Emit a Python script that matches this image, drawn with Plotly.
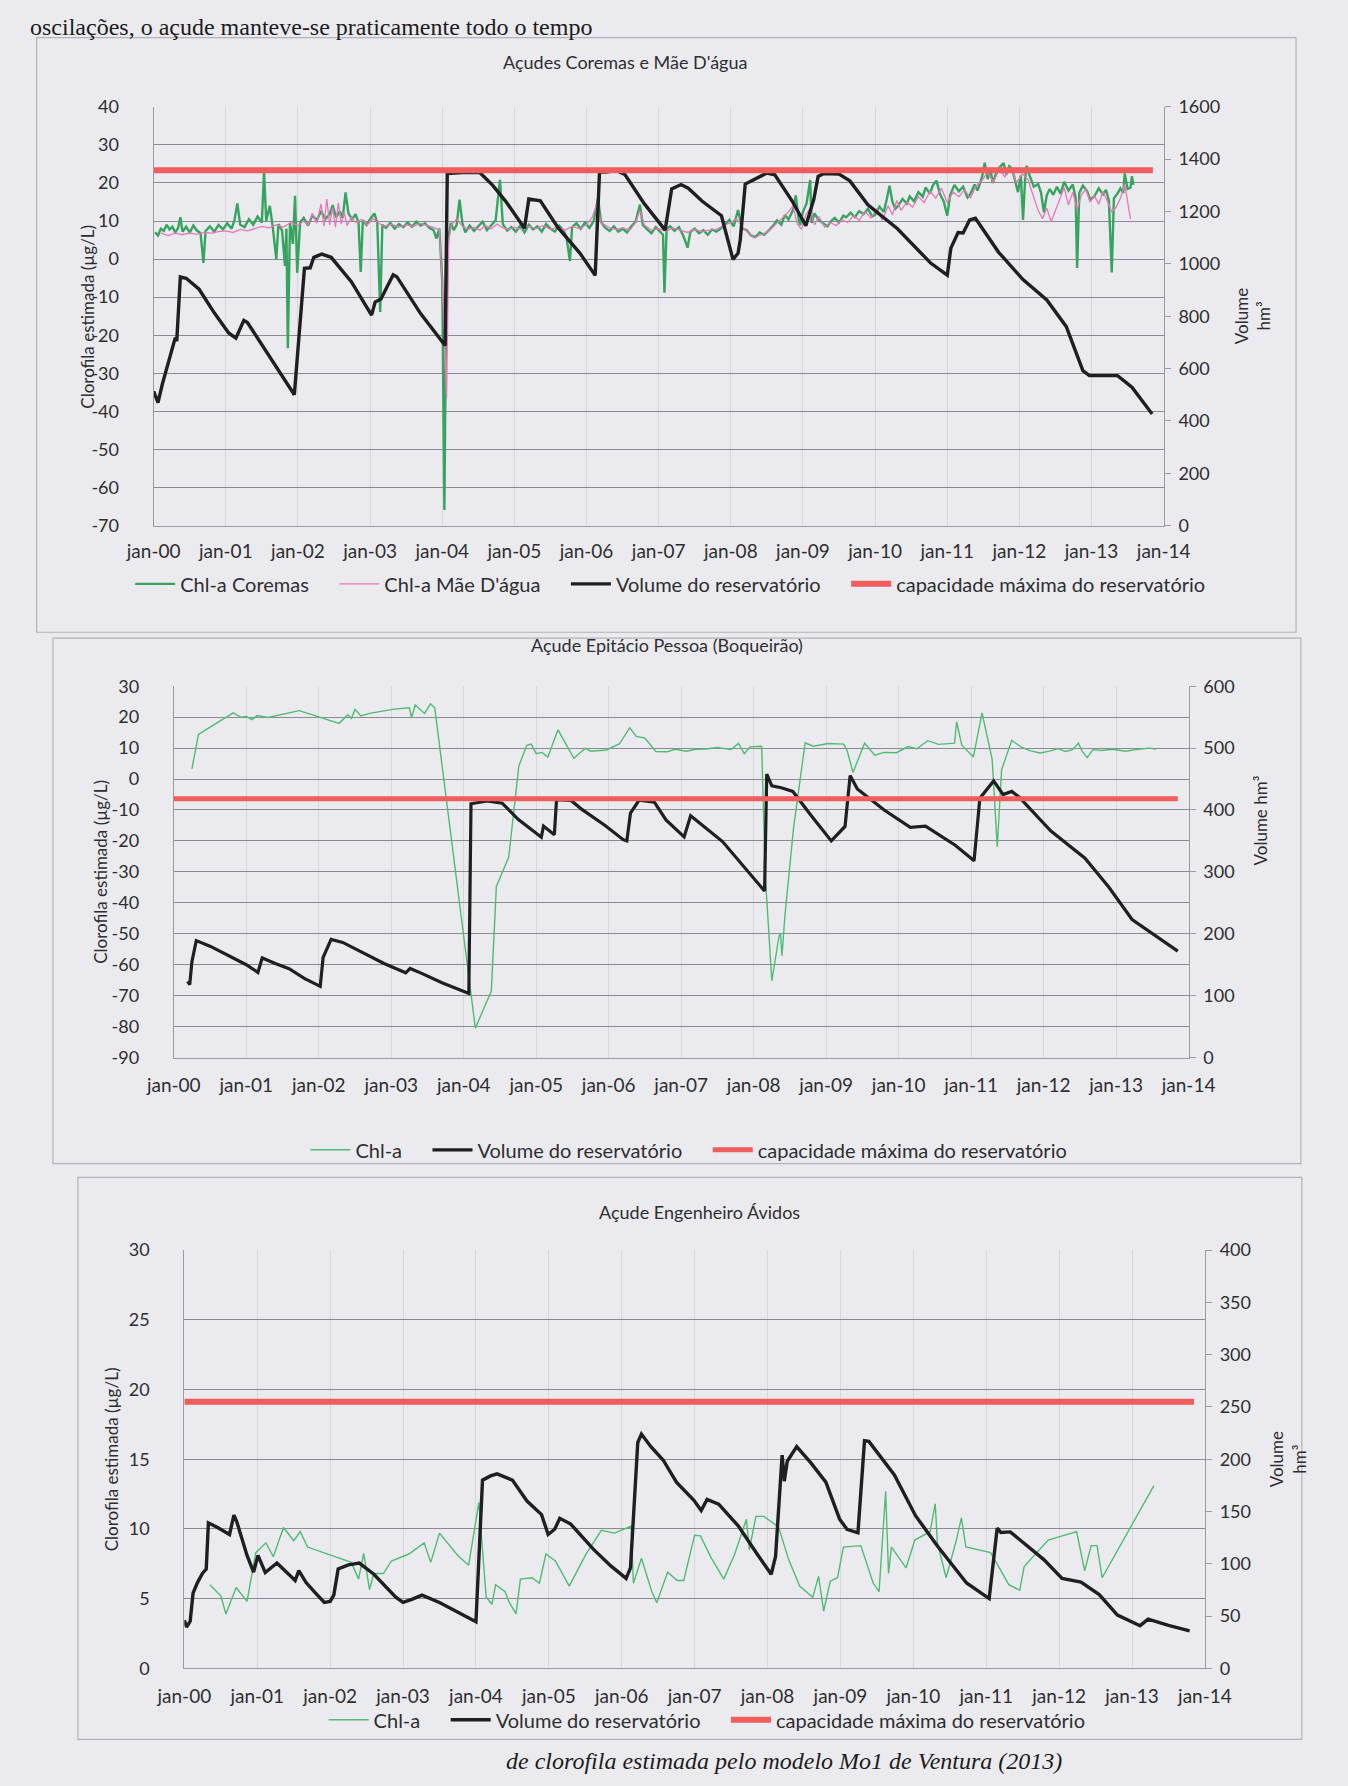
import plotly.graph_objects as go

W, H = 1348, 1786
FONT = "Lato, 'Open Sans', sans-serif"
SERIF = "'Liberation Serif', 'DejaVu Serif', serif"
TXT = "#2e2e30"

# ---------------- shared x-axis ticks ----------------
year_ticks = [2000, 2001, 2002, 2003, 2004, 2005, 2006, 2007,
              2008, 2009, 2010, 2011, 2012, 2013, 2014]
year_labels = ["jan-00", "jan-01", "jan-02", "jan-03", "jan-04", "jan-05", "jan-06",
               "jan-07", "jan-08", "jan-09", "jan-10", "jan-11", "jan-12", "jan-13", "jan-14"]

# left-axis tick labels (plain hyphen for negatives)
chl1_ticks = [-70, -60, -50, -40, -30, -20, -10, 0, 10, 20, 30, 40]
chl1_labels = ["-70", "-60", "-50", "-40", "-30", "-20", "-10", "0", "10", "20", "30", "40"]
chl2_ticks = [-90, -80, -70, -60, -50, -40, -30, -20, -10, 0, 10, 20, 30]
chl2_labels = ["-90", "-80", "-70", "-60", "-50", "-40", "-30", "-20", "-10", "0", "10", "20", "30"]
chl3_ticks = [0, 5, 10, 15, 20, 25, 30]
chl3_labels = ["0", "5", "10", "15", "20", "25", "30"]

# ---------------- Açudes Coremas e Mãe D'água ----------------
coremas_t = [2000.02, 2000.06, 2000.10, 2000.14, 2000.18, 2000.22, 2000.26, 2000.30, 2000.34, 2000.37,
             2000.40, 2000.45, 2000.50, 2000.55, 2000.60, 2000.65, 2000.69, 2000.72, 2000.78, 2000.84,
             2000.90, 2000.96, 2001.02, 2001.08, 2001.12, 2001.16, 2001.20, 2001.26, 2001.32, 2001.38,
             2001.44, 2001.50, 2001.53, 2001.56, 2001.61, 2001.65, 2001.70, 2001.73, 2001.78, 2001.82,
             2001.84, 2001.86, 2001.89, 2001.93, 2001.96, 2001.99, 2002.03, 2002.08, 2002.14, 2002.20,
             2002.26, 2002.32, 2002.38, 2002.44, 2002.48, 2002.53, 2002.58, 2002.62, 2002.66, 2002.70,
             2002.75, 2002.80, 2002.84, 2002.87, 2002.90, 2002.95, 2003.00, 2003.06, 2003.10, 2003.14,
             2003.17, 2003.22, 2003.28, 2003.34, 2003.40, 2003.46, 2003.52, 2003.58, 2003.64, 2003.70,
             2003.76, 2003.82, 2003.88, 2003.92, 2003.96, 2004.00, 2004.03, 2004.05, 2004.08, 2004.12,
             2004.16, 2004.20, 2004.24, 2004.28, 2004.32, 2004.38, 2004.44, 2004.50, 2004.56, 2004.62,
             2004.68, 2004.74, 2004.80, 2004.84, 2004.90, 2004.96, 2005.02, 2005.08, 2005.14, 2005.20,
             2005.26, 2005.32, 2005.38, 2005.44, 2005.50, 2005.56, 2005.62, 2005.68, 2005.72, 2005.77,
             2005.80, 2005.86, 2005.92, 2005.98, 2006.04, 2006.10, 2006.16, 2006.20, 2006.26, 2006.32,
             2006.38, 2006.44, 2006.50, 2006.56, 2006.62, 2006.68, 2006.74, 2006.78, 2006.84, 2006.90,
             2006.96, 2007.02, 2007.06, 2007.08, 2007.11, 2007.16, 2007.22, 2007.28, 2007.34, 2007.40,
             2007.44, 2007.50, 2007.56, 2007.62, 2007.68, 2007.74, 2007.80, 2007.86, 2007.92, 2007.98,
             2008.04, 2008.10, 2008.16, 2008.22, 2008.28, 2008.34, 2008.40, 2008.46, 2008.52, 2008.58,
             2008.64, 2008.70, 2008.75, 2008.80, 2008.86, 2008.90, 2008.94, 2008.96, 2009.00, 2009.05,
             2009.10, 2009.12, 2009.16, 2009.22, 2009.28, 2009.34, 2009.38, 2009.44, 2009.50, 2009.56,
             2009.60, 2009.66, 2009.72, 2009.78, 2009.84, 2009.90, 2009.96, 2010.00, 2010.06, 2010.12,
             2010.16, 2010.20, 2010.24, 2010.28, 2010.32, 2010.38, 2010.44, 2010.48, 2010.54, 2010.60,
             2010.66, 2010.70, 2010.76, 2010.80, 2010.85, 2010.90, 2010.95, 2011.00, 2011.04, 2011.10,
             2011.16, 2011.22, 2011.28, 2011.32, 2011.38, 2011.42, 2011.48, 2011.52, 2011.56, 2011.60,
             2011.63, 2011.68, 2011.72, 2011.78, 2011.82, 2011.86, 2011.90, 2011.94, 2011.98, 2012.02,
             2012.05, 2012.08, 2012.10, 2012.14, 2012.20, 2012.26, 2012.30, 2012.34, 2012.38, 2012.42,
             2012.47, 2012.52, 2012.57, 2012.62, 2012.68, 2012.74, 2012.78, 2012.80, 2012.83, 2012.88,
             2012.94, 2012.98, 2013.04, 2013.10, 2013.16, 2013.20, 2013.24, 2013.28, 2013.31, 2013.36,
             2013.40, 2013.44, 2013.46, 2013.50, 2013.54, 2013.56, 2013.58]
coremas_chl = [7.0, 6.2, 8.0, 7.4, 9.0, 7.8, 8.5, 7.0, 8.2, 11.0,
               7.2, 8.5, 7.0, 8.8, 7.5, 6.8, -1.0, 7.4, 8.6, 7.2,
               9.0, 7.8, 9.4, 8.0, 10.2, 14.6, 9.0, 8.4, 10.5, 9.0,
               11.2, 9.6, 23.0, 10.0, 14.0, 8.5, 0.0, 9.2, 7.5, -1.8,
               8.0, -23.4, 9.5, 4.0, 16.6, -3.6, 9.6, 10.8, 8.8, 11.5,
               10.2, 12.6, 10.5, 11.8, 14.2, 11.0, 12.5, 10.8, 17.5, 12.0,
               10.5, 11.8, 9.5, -3.4, 10.2, 9.0, 10.5, 12.0, 9.5, -13.9,
               9.0, 8.2, 9.5, 8.0, 9.2, 8.4, 9.6, 8.5, 9.8, 8.8,
               9.4, 8.2, 7.6, 5.4, 8.0, -5.9, -65.9, -20.0, 5.0, 9.5,
               7.6, 9.0, 15.6, 9.4, 7.0, 8.8, 7.4, 8.6, 9.8, 7.6,
               8.8, 10.2, 20.8, 9.2, 7.5, 8.4, 7.2, 8.8, 7.0, 9.0,
               7.8, 8.6, 7.2, 9.2, 8.0, 7.2, 8.8, 7.6, 6.0, -0.5,
               8.4, 9.4, 8.0, 9.6, 8.2, 10.0, 16.0, 9.8, 8.2, 7.4,
               8.6, 7.2, 8.0, 7.0, 8.6, 9.8, 14.3, 9.0, 7.8, 6.8,
               8.4, 7.2, 6.4, -8.8, 8.0, 8.6, 7.4, 8.4, 6.2, 3.0,
               7.2, 8.0, 6.8, 7.6, 6.4, 7.8, 7.2, 8.0, 9.2, 10.3,
               8.6, 12.9, 8.0, 7.6, 6.2, 5.8, 7.0, 6.4, 7.4, 8.6,
               10.2, 9.0, 11.6, 10.4, 12.8, 16.7, 10.5, 8.9, 12.4, 14.6,
               20.8, 9.5, 12.0, 10.2, 9.4, 8.6, 9.8, 10.8, 9.6, 11.4,
               11.0, 12.2, 11.0, 12.6, 11.8, 13.2, 11.2, 11.6, 13.8, 12.4,
               15.6, 19.3, 15.0, 13.2, 14.0, 15.8, 14.6, 16.5, 15.2, 17.6,
               16.4, 18.8, 17.2, 19.4, 20.6, 17.0, 15.2, 11.4, 16.8, 19.5,
               17.8, 19.0, 16.2, 17.1, 19.6, 18.0, 21.4, 25.3, 21.0, 23.4,
               20.0, 22.6, 24.0, 25.2, 22.2, 24.4, 23.7, 21.0, 17.6, 22.0,
               10.3, 21.2, 24.5, 22.0, 19.0, 19.7, 17.4, 12.3, 16.8, 18.4,
               16.9, 19.0, 17.2, 20.3, 18.0, 19.6, 16.0, -2.3, 17.4, 19.3,
               17.8, 15.6, 16.5, 18.6, 17.0, 18.2, 15.4, -3.5, 16.0, 17.2,
               18.6, 17.4, 22.5, 18.4, 18.8, 21.8, 19.5]

maedagua_t = [2000.10, 2000.20, 2000.30, 2000.40, 2000.50, 2000.60, 2000.70, 2000.80, 2000.90, 2001.00,
              2001.10, 2001.20, 2001.30, 2001.40, 2001.50, 2001.60, 2001.70, 2001.80, 2001.90, 2002.00,
              2002.08, 2002.14, 2002.20, 2002.26, 2002.32, 2002.36, 2002.40, 2002.44, 2002.48, 2002.52,
              2002.56, 2002.60, 2002.64, 2002.68, 2002.74, 2002.80, 2002.88, 2002.96, 2003.04, 2003.12,
              2003.20, 2003.30, 2003.40, 2003.50, 2003.60, 2003.70, 2003.80, 2003.90, 2003.96, 2004.00,
              2004.03, 2004.06, 2004.09, 2004.13, 2004.20, 2004.28, 2004.36, 2004.44, 2004.52, 2004.60,
              2004.68, 2004.76, 2004.84, 2004.92, 2005.00, 2005.10, 2005.20, 2005.30, 2005.40, 2005.50,
              2005.60, 2005.70, 2005.80, 2005.90, 2006.00, 2006.08, 2006.14, 2006.20, 2006.30, 2006.40,
              2006.50, 2006.60, 2006.68, 2006.74, 2006.80, 2006.90, 2007.00, 2007.10, 2007.20, 2007.30,
              2007.40, 2007.50, 2007.60, 2007.70, 2007.80, 2007.90, 2008.00, 2008.08, 2008.16, 2008.24,
              2008.32, 2008.40, 2008.48, 2008.56, 2008.64, 2008.72, 2008.80, 2008.86, 2008.92, 2008.98,
              2009.04, 2009.10, 2009.16, 2009.22, 2009.30, 2009.38, 2009.46, 2009.54, 2009.62, 2009.70,
              2009.78, 2009.86, 2009.94, 2010.02, 2010.10, 2010.18, 2010.24, 2010.30, 2010.36, 2010.44,
              2010.52, 2010.60, 2010.68, 2010.76, 2010.84, 2010.92, 2011.00, 2011.08, 2011.16, 2011.24,
              2011.32, 2011.40, 2011.48, 2011.56, 2011.64, 2011.72, 2011.80, 2011.88, 2011.96, 2012.04,
              2012.12, 2012.20, 2012.26, 2012.32, 2012.38, 2012.44, 2012.50, 2012.56, 2012.62, 2012.68,
              2012.74, 2012.80, 2012.86, 2012.92, 2012.98, 2013.04, 2013.10, 2013.16, 2013.22, 2013.28,
              2013.34, 2013.40, 2013.46, 2013.50, 2013.54]
maedagua_chl = [6.8, 6.2, 6.8, 6.4, 6.9, 6.5, 7.0, 6.8, 7.2, 7.4,
                7.0, 7.8, 7.4, 8.0, 8.6, 8.2, 9.0, 8.4, 9.6, 8.8,
                10.0, 9.0, 12.0, 9.4, 14.5, 8.6, 15.8, 9.0, 13.5, 8.4,
                14.8, 9.2, 12.4, 8.8, 11.0, 9.6, 10.4, 9.0, 10.6, 9.4,
                8.6, 9.2, 8.4, 9.0, 8.6, 9.4, 8.8, 8.2, 7.6, -6.0,
                -20.0, -36.6, 5.0, 9.0, 10.5, 8.6, 7.8, 8.4, 7.6, 8.8,
                8.0, 9.2, 8.2, 7.8, 8.4, 7.8, 8.6, 8.0, 8.8, 7.8,
                8.4, 7.6, 8.6, 8.0, 9.0, 11.0, 14.5, 9.6, 8.4, 7.8,
                8.2, 7.6, 9.6, 12.8, 9.0, 7.6, 8.0, 7.4, 8.2, 7.6,
                7.0, 7.8, 7.2, 7.6, 7.8, 8.8, 9.6, 10.6, 8.4, 7.0,
                5.6, 6.2, 6.8, 8.0, 9.4, 10.8, 12.4, 14.0, 9.2, 7.8,
                11.6, 13.4, 9.0, 11.2, 8.4, 9.6, 8.8, 10.4, 9.6, 11.4,
                10.2, 12.6, 10.8, 13.2, 10.2, 14.0, 11.6, 15.4, 12.8, 15.0,
                13.6, 16.4, 14.8, 17.8, 16.0, 18.6, 14.8, 17.6, 16.4, 18.2,
                16.0, 19.2, 20.6, 22.8, 20.2, 23.6, 21.6, 24.0, 20.0, 22.4,
                20.8, 16.2, 12.8, 10.6, 13.4, 9.8, 12.6, 15.8, 18.8, 14.2,
                17.6, 13.0, 16.8, 18.4, 15.0, 16.6, 14.4, 17.8, 15.2, 12.4,
                13.6, 16.0, 19.6, 14.8, 10.5]

coremas_vol_t = [2000.00, 2000.06, 2000.12, 2000.20, 2000.30, 2000.32, 2000.37, 2000.45, 2000.63, 2000.84,
                 2001.04, 2001.14, 2001.25, 2001.30, 2001.60, 2001.95, 2002.09, 2002.17, 2002.22, 2002.33,
                 2002.46, 2002.74, 2003.02, 2003.07, 2003.15, 2003.32, 2003.37, 2003.70, 2004.04, 2004.07,
                 2004.28, 2004.52, 2004.70, 2004.88, 2005.14, 2005.20, 2005.36, 2005.60, 2005.91, 2006.12,
                 2006.18, 2006.26, 2006.42, 2006.53, 2006.80, 2007.09, 2007.18, 2007.31, 2007.41, 2007.60,
                 2007.87, 2008.03, 2008.10, 2008.13, 2008.20, 2008.50, 2008.61, 2008.85, 2009.04, 2009.15,
                 2009.21, 2009.29, 2009.50, 2009.65, 2009.90, 2010.31, 2010.77, 2011.00, 2011.05, 2011.15,
                 2011.22, 2011.31, 2011.39, 2011.71, 2012.05, 2012.38, 2012.65, 2012.88, 2012.97, 2013.36,
                 2013.56, 2013.84]
coremas_vol = [513, 470, 540, 618, 718, 705, 950, 945, 903, 813,
               736, 716, 784, 776, 650, 500, 983, 985, 1025, 1037,
               1025, 932, 804, 854, 866, 958, 951, 810, 688, 1345,
               1349, 1349, 1300, 1239, 1136, 1248, 1241, 1140, 1040, 956,
               1351, 1351, 1356, 1342, 1230, 1129, 1286, 1303, 1289, 1240,
               1184, 1017, 1040, 1090, 1305, 1347, 1340, 1240, 1146, 1246,
               1334, 1345, 1343, 1317, 1226, 1134, 1003, 957, 1060, 1120,
               1118, 1168, 1174, 1045, 940, 862, 760, 592, 573, 573,
               529, 426]

coremas_cap = [1358, 1358]
coremas_cap_t = [2000.0, 2013.85]

# ---------------- Açude Epitácio Pessoa (Boqueirão) ----------------
boq_chl_t = [2000.25, 2000.34, 2000.55, 2000.82, 2000.92, 2001.00, 2001.08, 2001.15, 2001.30, 2001.50,
             2001.73, 2001.85, 2002.28, 2002.40, 2002.45, 2002.50, 2002.58, 2002.70, 2003.04, 2003.25,
             2003.28, 2003.33, 2003.46, 2003.54, 2003.60, 2004.16, 2004.38, 2004.45, 2004.62, 2004.76,
             2004.87, 2004.93, 2005.00, 2005.08, 2005.16, 2005.30, 2005.52, 2005.60, 2005.68, 2005.75,
             2005.97, 2006.15, 2006.29, 2006.38, 2006.50, 2006.65, 2006.80, 2006.92, 2007.07, 2007.20,
             2007.34, 2007.50, 2007.69, 2007.79, 2007.87, 2007.95, 2008.11, 2008.16, 2008.25, 2008.35,
             2008.37, 2008.39, 2008.43, 2008.55, 2008.71, 2008.82, 2009.03, 2009.24, 2009.29, 2009.37,
             2009.53, 2009.67, 2009.80, 2009.97, 2010.13, 2010.25, 2010.40, 2010.55, 2010.77, 2010.80,
             2010.87, 2011.03, 2011.15, 2011.29, 2011.36, 2011.42, 2011.56, 2011.70, 2011.82, 2011.95,
             2012.08, 2012.20, 2012.30, 2012.40, 2012.48, 2012.53, 2012.60, 2012.68, 2012.80, 2012.95,
             2013.13, 2013.30, 2013.45, 2013.55]
boq_chl = [3.3, 14.4, 17.5, 21.4, 20.0, 20.2, 19.2, 20.5, 19.9, 21.0,
           22.1, 21.2, 18.0, 20.8, 19.6, 22.5, 20.4, 21.2, 22.6, 23.0,
           19.8, 23.9, 21.2, 24.3, 23.0, -80.5, -68.5, -34.7, -25.3, 4.2,
           10.9, 11.3, 8.2, 8.6, 7.1, 15.9, 6.7, 8.4, 9.9, 9.0,
           9.4, 11.4, 16.6, 13.8, 13.2, 8.9, 8.8, 9.6, 9.0, 9.6,
           9.7, 10.2, 9.5, 11.5, 8.2, 10.4, 10.6, -31.4, -65.2, -50.7,
           -49.9, -57.1, -44.4, -15.7, 11.7, 10.6, 11.5, 11.3, 9.1, 2.1,
           11.6, 7.7, 8.6, 8.5, 10.5, 9.8, 12.4, 11.2, 11.6, 18.5,
           11.0, 7.1, 21.4, 6.3, -21.9, 3.0, 12.5, 10.2, 9.1, 8.4,
           9.0, 9.8, 8.9, 9.5, 11.6, 9.0, 6.9, 9.5, 9.2, 9.6,
           9.0, 9.6, 10.0, 9.7]

boq_vol_t = [2000.19, 2000.22, 2000.25, 2000.31, 2000.50, 2000.75, 2001.00, 2001.16, 2001.22, 2001.40,
             2001.59, 2001.80, 2002.02, 2002.06, 2002.17, 2002.33, 2002.60, 2002.90, 2003.20, 2003.26,
             2003.42, 2003.70, 2004.07, 2004.10, 2004.32, 2004.53, 2004.75, 2005.07, 2005.10, 2005.25,
             2005.28, 2005.48, 2005.63, 2005.95, 2006.20, 2006.25, 2006.30, 2006.42, 2006.63, 2006.79,
             2007.04, 2007.13, 2007.57, 2007.85, 2008.15, 2008.18, 2008.25, 2008.38, 2008.54, 2008.80,
             2009.07, 2009.26, 2009.33, 2009.43, 2009.80, 2010.16, 2010.37, 2010.78, 2011.04, 2011.12,
             2011.31, 2011.44, 2011.56, 2011.66, 2012.10, 2012.57, 2012.90, 2013.22, 2013.50, 2013.85]
boq_vol = [123, 118, 155, 189, 180, 165, 150, 137.5, 161, 152,
           143.5, 128, 115, 162, 191, 186, 170, 152, 137, 144,
           136, 121, 103.5, 410, 414.5, 411, 385, 356, 374, 360,
           416.5, 415.5, 401, 375, 352, 350, 395, 416, 412.5, 384,
           356.5, 390.7, 349, 310, 269, 458, 439, 436, 430, 390,
           350, 373.4, 455.6, 434, 400, 372, 374, 343, 318, 419,
           447, 425, 430, 421, 366, 322, 275, 223, 200, 172]

boq_cap = [418, 418]
boq_cap_t = [2000.0, 2013.85]

# ---------------- Açude Engenheiro Ávidos ----------------
avidos_chl_t = [2000.35, 2000.50, 2000.57, 2000.71, 2000.86, 2000.98, 2001.12, 2001.22, 2001.36, 2001.50,
                2001.59, 2001.69, 2002.29, 2002.39, 2002.46, 2002.54, 2002.60, 2002.73, 2002.84, 2003.08,
                2003.29, 2003.38, 2003.50, 2003.75, 2003.90, 2004.04, 2004.14, 2004.22, 2004.27, 2004.40,
                2004.45, 2004.55, 2004.61, 2004.77, 2004.87, 2004.96, 2005.09, 2005.28, 2005.50, 2005.72,
                2005.90, 2006.13, 2006.16, 2006.27, 2006.41, 2006.48, 2006.63, 2006.76, 2006.85, 2007.00,
                2007.08, 2007.22, 2007.40, 2007.55, 2007.71, 2007.75, 2007.84, 2007.95, 2008.15, 2008.29,
                2008.44, 2008.62, 2008.70, 2008.77, 2008.86, 2008.96, 2009.04, 2009.28, 2009.45, 2009.53,
                2009.62, 2009.66, 2009.70, 2009.90, 2010.02, 2010.23, 2010.30, 2010.33, 2010.45, 2010.59,
                2010.66, 2010.72, 2011.06, 2011.31, 2011.46, 2011.52, 2011.85, 2012.24, 2012.35, 2012.44,
                2012.52, 2012.59, 2013.30]
avidos_chl = [6.0, 5.2, 3.9, 5.8, 4.8, 8.3, 9.0, 8.0, 10.1, 9.15,
              9.8, 8.7, 7.6, 6.4, 8.25, 5.65, 6.8, 6.8, 7.7, 8.2,
              9.0, 7.6, 9.7, 8.1, 7.4, 11.9, 5.1, 4.6, 6.0, 5.5,
              4.8, 3.9, 6.4, 6.5, 6.1, 8.2, 7.7, 5.9, 8.1, 9.9,
              9.7, 10.2, 6.1, 7.9, 5.55, 4.7, 6.9, 6.3, 6.3, 9.55,
              9.5, 8.0, 6.4, 8.2, 10.7, 8.5, 10.9, 10.9, 10.15, 7.8,
              5.9, 5.1, 6.6, 4.1, 6.25, 6.5, 8.7, 8.8, 6.1, 5.5,
              12.7, 6.8, 8.7, 7.2, 9.2, 9.8, 11.8, 9.0, 6.5, 9.2,
              10.8, 8.7, 8.3, 6.0, 5.6, 7.3, 9.2, 9.8, 7.0, 8.8,
              8.8, 6.5, 13.1]

avidos_vol_t = [2000.00, 2000.03, 2000.08, 2000.12, 2000.18, 2000.25, 2000.30, 2000.33, 2000.45, 2000.55,
                2000.62, 2000.68, 2000.72, 2000.86, 2000.95, 2001.01, 2001.11, 2001.27, 2001.40, 2001.52,
                2001.57, 2001.67, 2001.80, 2001.92, 2002.00, 2002.05, 2002.11, 2002.25, 2002.40, 2002.60,
                2002.90, 2003.00, 2003.12, 2003.26, 2003.50, 2003.75, 2004.00, 2004.09, 2004.20, 2004.29,
                2004.50, 2004.70, 2004.90, 2004.99, 2005.08, 2005.15, 2005.30, 2005.61, 2005.85, 2006.06,
                2006.12, 2006.22, 2006.27, 2006.40, 2006.57, 2006.75, 2006.99, 2007.09, 2007.17, 2007.33,
                2007.60, 2007.85, 2008.05, 2008.11, 2008.20, 2008.23, 2008.27, 2008.40, 2008.60, 2008.80,
                2008.99, 2009.09, 2009.24, 2009.33, 2009.39, 2009.74, 2010.03, 2010.33, 2010.73, 2011.04,
                2011.15, 2011.20, 2011.33, 2011.79, 2012.04, 2012.30, 2012.55, 2012.80, 2013.11, 2013.22,
                2013.50, 2013.79]
avidos_vol = [46, 39.5, 45, 72, 82, 91, 95, 139, 135, 131,
              128, 146.6, 140, 108, 92, 108, 91.6, 100.7, 92, 84,
              93.4, 82, 72, 63, 64, 70, 95, 99, 100.7, 90,
              68, 63, 66, 70, 63, 54, 44.5, 180, 184, 186,
              180, 160, 147, 128, 133, 143.5, 138, 114, 98, 86,
              96, 216, 224, 212, 199, 178, 160.7, 151, 161.6, 157,
              136, 110, 90, 107, 204, 179, 198, 212, 196, 178,
              142.5, 133, 129.6, 217.6, 217, 185, 146, 117, 81.6, 66.7,
              134, 130, 130.5, 104, 86, 82.4, 70.6, 51, 40.8, 47,
              41, 35.8]

avidos_cap = [255, 255]
avidos_cap_t = [2000.0, 2013.85]

# ---------------- styling ----------------
GREEN1 = "#36a35e"
GREEN2 = "#4fbb74"
PINK = "#e877b8"
BLACK = "#1f1f22"
RED = "#ef5d5d"
GRID = "#8a8a90"
VGRID = "#d6d6db"
AXIS = "#9a9aa0"
BG = "#ebebef"
SP = "\u00a0" * 4   # extra room between legend entries


def fx(p):
    return p / W


def fy(p):
    return 1 - p / H


fig = go.Figure()

# chart 1 traces
fig.add_trace(go.Scatter(x=coremas_t, y=coremas_chl, mode="lines", name="Chl-a Coremas" + SP,
                         line=dict(color=GREEN1, width=2.4), xaxis="x", yaxis="y", legend="legend"))
fig.add_trace(go.Scatter(x=maedagua_t, y=maedagua_chl, mode="lines", name="Chl-a Mãe D'água" + SP,
                         line=dict(color=PINK, width=1.3), xaxis="x", yaxis="y", legend="legend"))
fig.add_trace(go.Scatter(x=coremas_vol_t, y=coremas_vol, mode="lines", name="Volume do reservatório" + SP,
                         line=dict(color=BLACK, width=3.4), xaxis="x", yaxis="y2", legend="legend"))
fig.add_trace(go.Scatter(x=coremas_cap_t, y=coremas_cap, mode="lines", name="capacidade máxima do reservatório",
                         line=dict(color=RED, width=6), xaxis="x", yaxis="y2", legend="legend"))

# chart 2 traces
fig.add_trace(go.Scatter(x=boq_chl_t, y=boq_chl, mode="lines", name="Chl-a" + SP,
                         line=dict(color=GREEN2, width=1.4), xaxis="x2", yaxis="y3", legend="legend2"))
fig.add_trace(go.Scatter(x=boq_vol_t, y=boq_vol, mode="lines", name="Volume do reservatório" + SP,
                         line=dict(color=BLACK, width=3.2), xaxis="x2", yaxis="y4", legend="legend2"))
fig.add_trace(go.Scatter(x=boq_cap_t, y=boq_cap, mode="lines", name="capacidade máxima do reservatório",
                         line=dict(color=RED, width=5), xaxis="x2", yaxis="y4", legend="legend2"))

# chart 3 traces
fig.add_trace(go.Scatter(x=avidos_chl_t, y=avidos_chl, mode="lines", name="Chl-a" + SP,
                         line=dict(color=GREEN2, width=1.4), xaxis="x3", yaxis="y5", legend="legend3"))
fig.add_trace(go.Scatter(x=avidos_vol_t, y=avidos_vol, mode="lines", name="Volume do reservatório" + SP,
                         line=dict(color=BLACK, width=3.4), xaxis="x3", yaxis="y6", legend="legend3"))
fig.add_trace(go.Scatter(x=avidos_cap_t, y=avidos_cap, mode="lines", name="capacidade máxima do reservatório",
                         line=dict(color=RED, width=6), xaxis="x3", yaxis="y6", legend="legend3"))

tickfont = dict(family=FONT, size=18, color=TXT)
xtickfont = dict(family=FONT, size=19, color=TXT)


def xaxis(x0, x1, anchor, standoff):
    return dict(domain=[fx(x0), fx(x1)], anchor=anchor, range=[2000, 2014],
                tickmode="array", tickvals=year_ticks, ticktext=year_labels,
                showgrid=True, gridcolor=VGRID, gridwidth=1, zeroline=False,
                showline=True, linecolor=AXIS, linewidth=1.2, ticks="",
                ticklabelstandoff=standoff, tickfont=xtickfont, fixedrange=True)


def yleft(y0, y1, anchor, rng, tv, tt):
    return dict(domain=[fy(y1), fy(y0)], anchor=anchor, range=rng,
                tickmode="array", tickvals=tv, ticktext=tt,
                showgrid=True, gridcolor=GRID, gridwidth=1.2, zeroline=False,
                showline=True, linecolor=AXIS, linewidth=1.2, ticks="",
                ticklabelstandoff=30, tickfont=tickfont, fixedrange=True)


def yright(over, anchor, rng, dtick):
    return dict(overlaying=over, anchor=anchor, side="right", range=rng, dtick=dtick,
                showgrid=False, zeroline=False, showline=True, linecolor=AXIS, linewidth=1.2,
                ticks="outside", ticklen=6, tickcolor=AXIS, ticklabelstandoff=4,
                tickfont=tickfont, fixedrange=True)


legend_common = dict(orientation="h", xanchor="center", yanchor="middle",
                     font=dict(family=FONT, size=20, color=TXT), bgcolor="rgba(0,0,0,0)",
                     itemwidth=40, traceorder="normal")

fig.update_layout(
    width=W, height=H,
    margin=dict(l=0, r=0, t=0, b=0),
    paper_bgcolor=BG, plot_bgcolor=BG,
    xaxis=xaxis(131, 1184, "y", 9),
    yaxis=yleft(96, 520, "x", [-70, 40], chl1_ticks, chl1_labels),
    yaxis2=yright("y", "x", [0, 1600], 200),
    xaxis2=xaxis(152, 1210, "y3", 11),
    yaxis3=yleft(682.6, 1058.6, "x2", [-90, 30], chl2_ticks, chl2_labels),
    yaxis4=yright("y3", "x2", [0, 600], 100),
    xaxis3=xaxis(163, 1227, "y5", 11),
    yaxis5=yleft(1253.5, 1677, "x3", [0, 30], chl3_ticks, chl3_labels),
    yaxis6=yright("y5", "x3", [0, 400], 50),
    legend=dict(legend_common, x=fx(670), y=fy(579)),
    legend2=dict(legend_common, x=fx(689), y=fy(1152)),
    legend3=dict(legend_common, x=fx(708), y=fy(1729)),
    showlegend=True,
)

# chart frames
frames = [(9, 26, 1322, 628), (26, 634, 1327, 1166), (52, 1180, 1328, 1749)]
for (x0, y0, x1, y1) in frames:
    fig.add_shape(type="rect", xref="paper", yref="paper",
                  x0=fx(x0), x1=fx(x1), y0=fy(y1), y1=fy(y0),
                  line=dict(color="#b2b2b8", width=1.2), fillcolor="rgba(0,0,0,0)", layer="below")

ann = []
# chart titles
for text, x, y in [("Açudes Coremas e Mãe D'água", 622, 51),
                   ("Açude Epitácio Pessoa (Boqueirão)", 666, 641),
                   ("Açude Engenheiro Ávidos", 700, 1215)]:
    ann.append(dict(text=text, x=fx(x), y=fy(y), xref="paper", yref="paper",
                    xanchor="center", yanchor="middle", showarrow=False,
                    font=dict(family=FONT, size=18, color=TXT)))

# left axis titles
for x, y in [(62, 308), (76, 870.6), (88, 1465)]:
    ann.append(dict(text="Clorofila estimada (µg/L)", x=fx(x), y=fy(y), xref="paper", yref="paper",
                    xanchor="center", yanchor="middle", showarrow=False, textangle=-90,
                    font=dict(family=FONT, size=17, color=TXT)))

# right axis titles
for text, x, y in [("Volume<br>hm³", 1276, 308), ("Volume hm³", 1285, 819), ("Volume<br>hm³", 1314, 1465)]:
    ann.append(dict(text=text, x=fx(x), y=fy(y), xref="paper", yref="paper",
                    xanchor="center", yanchor="middle", showarrow=False, textangle=-90,
                    font=dict(family=FONT, size=17, color=TXT)))

# surrounding page text
ann.append(dict(text="oscilações, o açude manteve-se praticamente todo o tempo", x=0, y=1,
                xref="paper", yref="paper", xanchor="left", yanchor="top", showarrow=False,
                font=dict(family=SERIF, size=24, color="#1c1c1c")))
ann.append(dict(text="<i>de clorofila estimada pelo modelo Mo1 de Ventura (2013)</i>", x=fx(1080), y=0,
                xref="paper", yref="paper", xanchor="right", yanchor="bottom", showarrow=False,
                font=dict(family=SERIF, size=24, color="#1c1c1c")))

fig.update_layout(annotations=ann)

fig.write_html("out.html")
